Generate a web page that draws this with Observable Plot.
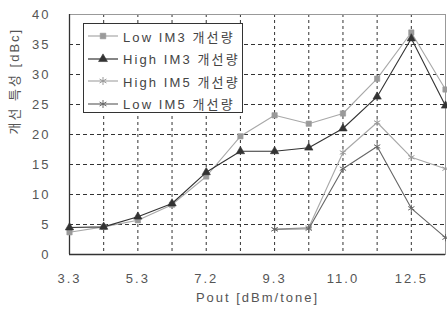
<!DOCTYPE html>
<html>
<head>
<meta charset="utf-8">
<script src="https://cdn.jsdelivr.net/npm/d3@7"></script>
<script src="https://cdn.jsdelivr.net/npm/@observablehq/plot@0.6"></script>
<style>
  body { margin: 0; background: #fff; }
  #wrap { position: relative; width: 447px; height: 316px; }
  #legend { position: absolute; left: 83px; top: 23px; width: 160px; height: 90px;
            border: 1px solid #333; background: #fff; box-sizing: border-box;
            font-family: "Liberation Sans", "Noto Sans CJK KR", sans-serif; font-size: 13px; color: #444; }
  .row { position: absolute; left: 4px; height: 22px; display: flex; align-items: center; white-space: nowrap; }
  .row span { margin-left: 5px; letter-spacing: 2.1px; }
</style>
</head>
<body>
<div id="wrap"></div>
<script>
const xIndex = [0, 1, 2, 3, 4, 5, 6, 7, 8, 9, 10, 11];
const tickIndex = [0, 2, 4, 6, 8, 10];
const tickLabels = ["3.3", "5.3", "7.2", "9.3", "11.0", "12.5"];
const lowIM3  = [3.7, 4.6, 5.7, 8.3, 13.0, 19.7, 23.2, 21.8, 23.5, 29.3, 37.0, 27.5];
const highIM3 = [4.5, 4.6, 6.3, 8.5, 13.7, 17.2, 17.2, 17.8, 21.0, 26.3, 36.0, 24.8];
const highIM5 = [null, null, null, null, null, null, 4.2, 4.5, 17.0, 22.0, 16.2, 14.3];
const lowIM5  = [null, null, null, null, null, null, 4.2, 4.3, 14.3, 18.0, 7.7, 2.8];
const seriesNames = ["Low IM3 개선량", "High IM3 개선량", "High IM5 개선량", "Low IM5 개선량"];
const yTicks = [0, 5, 10, 15, 20, 25, 30, 35, 40];

const styles = [
  {line: "#a8a8a8", fill: "#9a9a9a", stroke: "#9a9a9a", symbol: "square", r: 3.0},
  {line: "#333", fill: "#333", stroke: "#333", symbol: "triangle", r: 3.1},
  {line: "#a8a8a8", fill: "none", stroke: "#999", symbol: "asterisk", r: 3.4},
  {line: "#666", fill: "none", stroke: "#666", symbol: "asterisk", r: 3.4}
];
const allSeries = [lowIM3, highIM3, highIM5, lowIM5];
const rows = [];
allSeries.forEach((vals, s) => vals.forEach((v, i) => rows.push({s, x: xIndex[i], y: v})));

const font = "Liberation Sans, sans-serif";
const marks = [
  Plot.gridX(xIndex.slice(1), {stroke: "#333", strokeOpacity: 1, strokeDasharray: "3,3", strokeWidth: 1}),
  Plot.gridY(yTicks.slice(1, -1), {stroke: "#333", strokeOpacity: 1, strokeDasharray: "4,3", strokeWidth: 1}),
  Plot.frame({stroke: "#999", strokeWidth: 1}),
  Plot.ruleX([0], {stroke: "#333", strokeWidth: 1.3}),
  Plot.ruleY([0], {stroke: "#333", strokeWidth: 1.3}),
];
[2, 3, 0, 1].forEach(s => {
  const d = rows.filter(r => r.s === s);
  const st = styles[s];
  marks.push(Plot.line(d, {x: "x", y: "y", stroke: st.line, strokeWidth: 1.1, defined: r => r.y != null}));
  marks.push(Plot.dot(d.filter(r => r.y != null), {x: "x", y: "y", symbol: () => st.symbol, r: st.r,
    fill: st.fill, stroke: st.stroke, strokeWidth: st.fill === "none" ? 1 : 0.6}));
});
marks.push(
  Plot.axisX(tickIndex, {tickSize: 0, tickPadding: 19, fontSize: 13, fill: "#555",
    tickFormat: (d) => tickLabels[tickIndex.indexOf(d)], label: null, fontFamily: font}),
  Plot.axisY(yTicks, {tickSize: 0, tickPadding: 19, fontSize: 13, fill: "#555", label: null, fontFamily: font}),
  Plot.text(["Pout [dBm/tone]"], {frameAnchor: "bottom", dy: 47, fontSize: 13, fill: "#555", fontFamily: font}),
  Plot.text(["개선 특성 [dBc]"], {frameAnchor: "left", dx: -55, rotate: -90, fontSize: 13, fill: "#555",
    fontFamily: "Liberation Sans, Noto Sans CJK KR, sans-serif"})
);

const chart = Plot.plot({
  width: 447, height: 316,
  marginLeft: 69, marginRight: 2, marginTop: 14, marginBottom: 62,
  x: {domain: [0, 11], axis: null},
  y: {domain: [0, 40], axis: null},
  style: {fontFamily: font, letterSpacing: "2px", background: "#fff"},
  marks
});
const wrap = document.getElementById("wrap");
wrap.appendChild(chart);

// legend
const leg = document.createElement("div");
leg.id = "legend";
seriesNames.forEach((name, s) => {
  const st = styles[s];
  const row = document.createElement("div");
  row.className = "row";
  row.style.top = (1 + s * 22.5) + "px";
  const sym = d3.symbol(
    st.symbol === "square" ? d3.symbolSquare : st.symbol === "triangle" ? d3.symbolTriangle : d3.symbolAsterisk,
    st.symbol === "square" ? 32 : st.symbol === "triangle" ? 34 : 44)();
  row.innerHTML = `<svg width="30" height="12"><line x1="0" x2="30" y1="6" y2="6" stroke="${st.line}" stroke-width="1.2"/>` +
    `<path transform="translate(15,6)" d="${sym}" fill="${st.fill}" stroke="${st.stroke}" stroke-width="${st.fill === "none" ? 1 : 0.6}"/></svg>` +
    `<span>${name}</span>`;
  leg.appendChild(row);
});
wrap.appendChild(leg);
</script>
</body>
</html>
